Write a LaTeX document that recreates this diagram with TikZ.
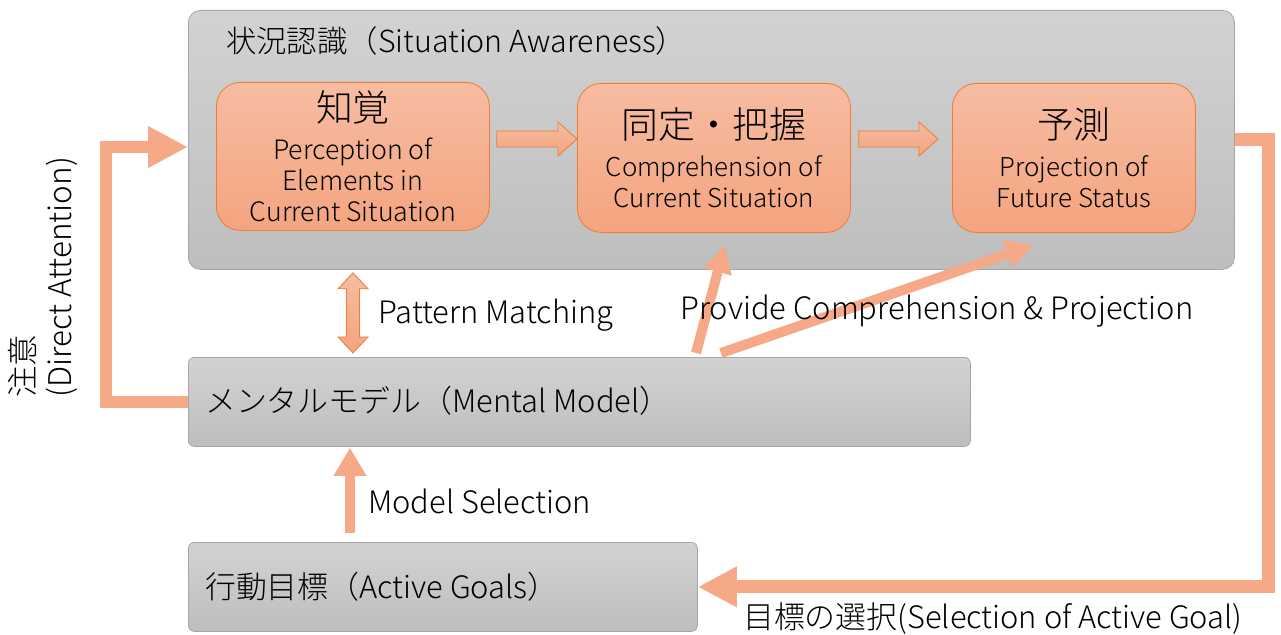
\documentclass[tikz,border=0pt]{standalone}
\usepackage{fontspec}
\setmainfont{Noto Sans CJK JP}[UprightFont=* Light]
\usetikzlibrary{arrows.meta,calc}

\definecolor{gtop}{HTML}{D2D2D2}
\definecolor{gbot}{HTML}{BEBEBE}
\definecolor{gline}{HTML}{A6A6A6}
\definecolor{otop}{HTML}{F6BCA2}
\definecolor{obot}{HTML}{F4A47F}
\definecolor{oline}{HTML}{ED7D31}
\definecolor{flow}{HTML}{F5A986}

\newcommand\fs[1]{\fontsize{#1}{#1}\selectfont}

\tikzset{
  gbox/.style={draw=gline, line width=0.8bp, top color=gtop, bottom color=gbot,
    inner sep=0pt, anchor=north west},
  obox/.style={draw=oline, line width=0.8bp, top color=otop, bottom color=obot,
    rounded corners=24bp, inner sep=0pt, anchor=north west},
  blockarrow/.style={draw=oline, line width=0.8bp, top color=otop, bottom color=obot},
  head/.style={inner sep=0pt, font=\fs{37}},
  body/.style={inner sep=0pt, align=center},
  lbl/.style={inner sep=0pt, anchor=west, font=\fs{31}},
  thinflow/.style={draw=flow, line width=10bp, -{Triangle[length=28bp,width=27bp]}},
  fatflow/.style={draw=flow, line width=12bp, -{Triangle[length=40bp,width=39bp]}},
}

% horizontal block arrow from #1 to #2
\newcommand\hblock[2]{%
  \path[blockarrow] let \p1=(#1), \p2=(#2) in
    (\x1,\y1+8bp) -- (\x2-19bp,\y1+8bp) -- (\x2-19bp,\y1+17bp) -- (\x2,\y1)
    -- (\x2-19bp,\y1-17bp) -- (\x2-19bp,\y1-8bp) -- (\x1,\y1-8bp) -- cycle;}

\begin{document}
\begin{tikzpicture}[x=1bp, y=-1bp]
\useasboundingbox (0,0) rectangle (1281,635);

% situation awareness frame
\node[gbox, rounded corners=12bp, minimum width=1046bp, minimum height=259bp] (sa) at (188,10) {};
\node[lbl, font=\fs{30.5}] (satitle) at ($(sa.north west)+(38,31)$) {状況認識（Situation Awareness）};

% the three stages
\node[obox, minimum width=273bp, minimum height=148bp] (perc) at (216,82) {};
\node[obox, minimum width=273bp, minimum height=149bp] (comp) at (577,83) {};
\node[obox, minimum width=243bp, minimum height=149bp] (proj) at (952,83) {};

\node[head] (percH) at ($(perc.north)+(0,25)$) {知覚};
\node[body, font=\fontsize{26.8}{31}\selectfont] (percT) at ($(perc.north)+(0,98)$)
  {Perception of\\Elements in\\Current Situation};
\node[head] (compH) at ($(comp.north)+(0,42)$) {同定・把握};
\node[body, font=\fontsize{26}{31.5}\selectfont] (compT) at ($(comp.north)+(0,99)$)
  {Comprehension of\\Current Situation};
\node[head] (projH) at ($(proj.north)+(0,42)$) {予測};
\node[body, font=\fontsize{26}{31.5}\selectfont] (projT) at ($(proj.north)+(0,99)$)
  {Projection of\\Future Status};

\coordinate (a1s) at ($(perc.north east)+(7,57)$);
\coordinate (a1e) at ($(comp.north west)+(0,56)$);
\coordinate (a2s) at ($(comp.north east)+(8,56)$);
\coordinate (a2e) at ($(proj.north west)+(-14,56)$);
\hblock{a1s}{a1e}
\hblock{a2s}{a2e}

% mental model and goals
\node[gbox, rounded corners=6bp, minimum width=782bp, minimum height=89bp] (mm) at (188,357) {};
\node[lbl] (mmT) at ($(mm.west)+(17,-1)$) {メンタルモデル（Mental Model）};
\node[gbox, rounded corners=6bp, minimum width=509bp, minimum height=89bp] (ag) at (188,542) {};
\node[lbl] (agT) at ($(ag.west)+(17,0)$) {行動目標（Active Goals）};

% pattern matching (two-headed block arrow)
\coordinate (pmTop) at ($(sa.south west)+(165,3)$);
\coordinate (pmBot) at ($(mm.north west)+(165,-4)$);
\path[blockarrow] let \p1=(pmTop), \p2=(pmBot) in
  (\x1,\y1) -- (\x1+15bp,\y1-16bp) -- (\x1+6.5bp,\y1-16bp) -- (\x1+6.5bp,\y2+16bp)
  -- (\x1+15bp,\y2+16bp) -- (\x1,\y2) -- (\x1-15bp,\y2+16bp) -- (\x1-6.5bp,\y2+16bp)
  -- (\x1-6.5bp,\y1-16bp) -- (\x1-15bp,\y1-16bp) -- cycle;
\node[lbl] (pmT) at (378,315) {Pattern Matching};

% provide comprehension & projection
\coordinate (c1s) at ($(mm.north west)+(508,-4)$);
\coordinate (c1e) at ($(comp.south)+(11,12)$);
\coordinate (c2s) at ($(mm.north west)+(533,-4)$);
\coordinate (c2e) at ($(proj.south)+(-40,12)$);
\draw[thinflow] (c1s) -- (c1e);
\draw[thinflow] (c2s) -- (c2e);
\node[lbl] (pcT) at (680,311) {Provide Comprehension \& Projection};

% model selection
\coordinate (msS) at ($(ag.north west)+(162,-9)$);
\coordinate (msE) at ($(mm.south west)+(162,1)$);
\draw[draw=flow, line width=10bp, -{Triangle[length=28bp,width=31bp]}] (msS) -- (msE);
\node[lbl] (msT) at (368,501) {Model Selection};

% direct attention loop
\coordinate (daE) at ($(sa.north west)+(0,137)$);
\draw[fatflow] (mm.west) -- ++(-82,0) |- (daE);
\node[inner sep=0pt, rotate=90, anchor=west, align=left, font=\fontsize{31.5}{37}\selectfont]
  (daT) at (43,398) {注意\\(Direct Attention)};

% goal selection loop
\draw[draw=flow, line width=13bp, -{Triangle[length=39bp,width=38bp]}] (sa.east) -- ++(34,0) |- (ag.east);
\node[lbl] (gsT) at (743,619) {目標の選択(Selection of Active Goal)};
\end{tikzpicture}
\end{document}
